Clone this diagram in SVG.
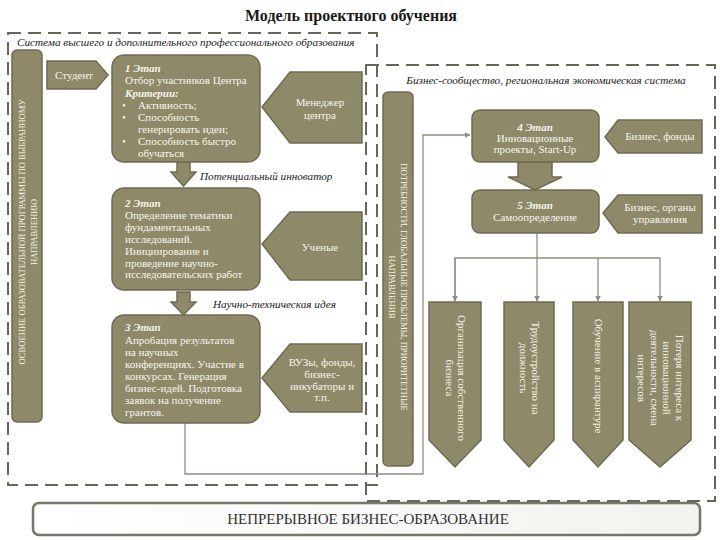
<svg xmlns="http://www.w3.org/2000/svg" width="720" height="540" viewBox="0 0 720 540">
<defs>
<style>
.box{fill:#8e8a69;stroke:#6f6b52;stroke-width:1.5}
.dash{fill:none;stroke:#66665a;stroke-width:2;stroke-dasharray:13 7}
.wt{font-family:"Liberation Serif",serif;font-size:11px;fill:#f6f4ea}
.bi{font-weight:bold;font-style:italic}
.lbl{font-family:"Liberation Serif",serif;font-size:11.2px;font-style:italic;fill:#1a1a1a}
.bar{font-family:"Liberation Serif",serif;font-size:8.6px;fill:#f6f4ea}
.con{fill:none;stroke:#8f8f80;stroke-width:1.3}
.ctr{text-anchor:middle}
</style>
<marker id="ah" viewBox="0 0 10 10" refX="9" refY="5" markerWidth="6" markerHeight="6" orient="auto" markerUnits="userSpaceOnUse">
<path d="M0,0 L10,5 L0,10 z" fill="#8f8f80"/>
</marker>
<linearGradient id="bg" x1="0" y1="0" x2="1" y2="0">
<stop offset="0" stop-color="#ffffff"/>
<stop offset="1" stop-color="#f2f2ee"/>
</linearGradient>
</defs>
<rect width="720" height="540" fill="#ffffff"/>
<text x="351" y="21" class="ctr" font-family="Liberation Serif,serif" font-size="16" font-weight="bold" fill="#1a1a1a">Модель проектного обучения</text>

<g id="containers">
<rect class="dash" x="8" y="33" width="369" height="452"/>
<rect class="dash" x="366" y="65" width="349" height="436"/>
<text x="17" y="46" class="lbl">Система высшего и дополнительного профессионального образования</text>
<text x="546" y="84" class="lbl ctr">Бизнес-сообщество, региональная экономическая система</text>
</g>

<g id="connectors">
<path class="con" d="M185,423 V474 H423 V135 H470" marker-end="url(#ah)"/>
<path class="con" d="M537,233 V301" marker-end="url(#ah)"/>
<path class="con" d="M455,301 V258 H660 V301" marker-end="url(#ah)"/>
<path class="con" d="M455,258 V301" marker-end="url(#ah)"/>
<path class="con" d="M598,258 V301" marker-end="url(#ah)"/>
<polygon class="box" points="177,162 190,162 190,172 196,172 183.5,186 171,172 177,172"/>
<polygon class="box" points="177,292 190,292 190,302 196,302 183.5,315 171,302 177,302"/>
<polygon class="box" points="518,162 552,162 552,177 562,177 535,190 508,177 518,177"/>
<text x="200" y="180" class="lbl">Потенциальный инноватор</text>
<text x="213" y="308" class="lbl">Научно-техническая идея</text>
</g>

<g id="bar-left">
<rect class="box" x="12" y="50" width="30" height="372" rx="5"/>
<g transform="translate(27,232) rotate(-90)">
<text x="0" y="-2.5" class="bar ctr">ОСВОЕНИЕ ОБРАЗОВАТЕЛЬНОЙ ПРОГРАММЫ ПО ВЫБРАННОМУ</text>
<text x="0" y="9.5" class="bar ctr">НАПРАВЛЕНИЮ</text>
</g>
</g>

<g id="student">
<polygon class="box" points="47,61 96,61 108,75 96,89 47,89"/>
<text x="74" y="79" class="wt ctr">Студент</text>
</g>

<g id="stage1">
<rect class="box" x="112" y="55" width="148" height="107" rx="12"/>
<text class="wt bi" x="125" y="72">1 Этап</text>
<text class="wt" x="125" y="84">Отбор участников Центра</text>
<text class="wt bi" x="125" y="97">Критерии:</text>
<text class="wt" x="122" y="109">•</text><text class="wt" x="138" y="109">Активность;</text>
<text class="wt" x="122" y="121">•</text><text class="wt" x="138" y="121">Способность</text>
<text class="wt" x="138" y="133">генерировать идеи;</text>
<text class="wt" x="122" y="145">•</text><text class="wt" x="138" y="145">Способность быстро</text>
<text class="wt" x="138" y="157">обучаться</text>
</g>

<g id="manager">
<polygon class="box" points="262,107 290,72 362,72 362,143 290,143"/>
<text class="wt ctr" x="320" y="106">Менеджер</text>
<text class="wt ctr" x="320" y="119">центра</text>
</g>

<g id="stage2">
<rect class="box" x="112" y="188" width="148" height="102" rx="12"/>
<text class="wt bi" x="125" y="207">2 Этап</text>
<text class="wt" x="125" y="219">Определение тематики</text>
<text class="wt" x="125" y="231">фундаментальных</text>
<text class="wt" x="125" y="243">исследований.</text>
<text class="wt" x="125" y="255">Инициирование и</text>
<text class="wt" x="125" y="267">проведение научно-</text>
<text class="wt" x="125" y="278">исследовательских работ</text>
</g>

<g id="scientists">
<polygon class="box" points="262,244 290,212 362,212 362,280 290,280"/>
<text class="wt ctr" x="320" y="251">Ученые</text>
</g>

<g id="stage3">
<rect class="box" x="112" y="315" width="148" height="108" rx="12"/>
<text class="wt bi" x="125" y="331">3 Этап</text>
<text class="wt" x="125" y="344">Апробация результатов</text>
<text class="wt" x="125" y="356">на научных</text>
<text class="wt" x="125" y="368">конференциях. Участие в</text>
<text class="wt" x="125" y="380">конкурсах. Генерация</text>
<text class="wt" x="125" y="392">бизнес-идей. Подготовка</text>
<text class="wt" x="125" y="404">заявок на получение</text>
<text class="wt" x="125" y="416">грантов.</text>
</g>

<g id="universities">
<polygon class="box" points="262,378 290,344 362,344 362,412 290,412"/>
<text class="wt ctr" x="322" y="366">ВУЗы, фонды,</text>
<text class="wt ctr" x="322" y="378">бизнес-</text>
<text class="wt ctr" x="322" y="390">инкубаторы и</text>
<text class="wt ctr" x="322" y="401">т.п.</text>
</g>

<g id="bar-right">
<rect class="box" x="383" y="92" width="30" height="374" rx="5"/>
<g transform="translate(398,287) rotate(90)">
<text x="0" y="-2.5" class="bar ctr">ПОТРЕБНОСТИ, ГЛОБАЛЬНЫЕ ПРОБЛЕМЫ, ПРИОРИТЕТНЫЕ</text>
<text x="0" y="9.5" class="bar ctr">НАПРАВЛЕНИЯ</text>
</g>
</g>

<g id="stage4">
<rect class="box" x="472" y="110" width="127" height="52" rx="8"/>
<text class="wt bi ctr" x="535" y="131">4 Этап</text>
<text class="wt ctr" x="535" y="142">Инновационные</text>
<text class="wt ctr" x="535" y="153">проекты, Start-Up</text>
</g>

<g id="business-funds">
<polygon class="box" points="605,137 618,120 702,120 702,153 618,153"/>
<text class="wt ctr" x="660" y="140">Бизнес, фонды</text>
</g>

<g id="stage5">
<rect class="box" x="472" y="190" width="127" height="43" rx="8"/>
<text class="wt bi ctr" x="535" y="209">5 Этап</text>
<text class="wt ctr" x="535" y="221">Самоопределение</text>
</g>

<g id="business-gov">
<polygon class="box" points="603,213 618,195 702,195 702,233 618,233"/>
<text class="wt ctr" x="660" y="211">Бизнес, органы</text>
<text class="wt ctr" x="660" y="223">управления</text>
</g>

<g id="out1">
<polygon class="box" points="429,302 481,302 481,440 455,467 429,440"/>
<g transform="translate(455,378) rotate(90)">
<text x="0" y="-2.5" class="wt ctr">Организация собственного</text>
<text x="0" y="9.5" class="wt ctr">бизнеса</text>
</g>
</g>

<g id="out2">
<polygon class="box" points="504,302 554,302 554,440 529,467 504,440"/>
<g transform="translate(529,368) rotate(90)">
<text x="0" y="-2.5" class="wt ctr">Трудоустройство на</text>
<text x="0" y="9.5" class="wt ctr">должность</text>
</g>
</g>

<g id="out3">
<polygon class="box" points="573,302 623,302 623,440 598,467 573,440"/>
<g transform="translate(598,376) rotate(90)">
<text x="0" y="3.5" class="wt ctr">Обучение в аспирантуре</text>
</g>
</g>

<g id="out4">
<polygon class="box" points="629,302 691,302 691,440 660,467 629,440"/>
<g transform="translate(660,378) rotate(90)">
<text x="0" y="-15.5" class="wt ctr">Потеря интереса к</text>
<text x="0" y="-3" class="wt ctr">инновационной</text>
<text x="0" y="9.5" class="wt ctr">деятельности, смена</text>
<text x="0" y="22" class="wt ctr">интересов</text>
</g>
</g>

<g id="banner">
<rect x="33" y="503" width="667" height="32" rx="6" fill="url(#bg)" stroke="#77766a" stroke-width="2.5"/>
<text x="368" y="524" class="ctr" font-family="Liberation Serif,serif" font-size="15" fill="#333333">НЕПРЕРЫВНОЕ БИЗНЕС-ОБРАЗОВАНИЕ</text>
</g>
</svg>
